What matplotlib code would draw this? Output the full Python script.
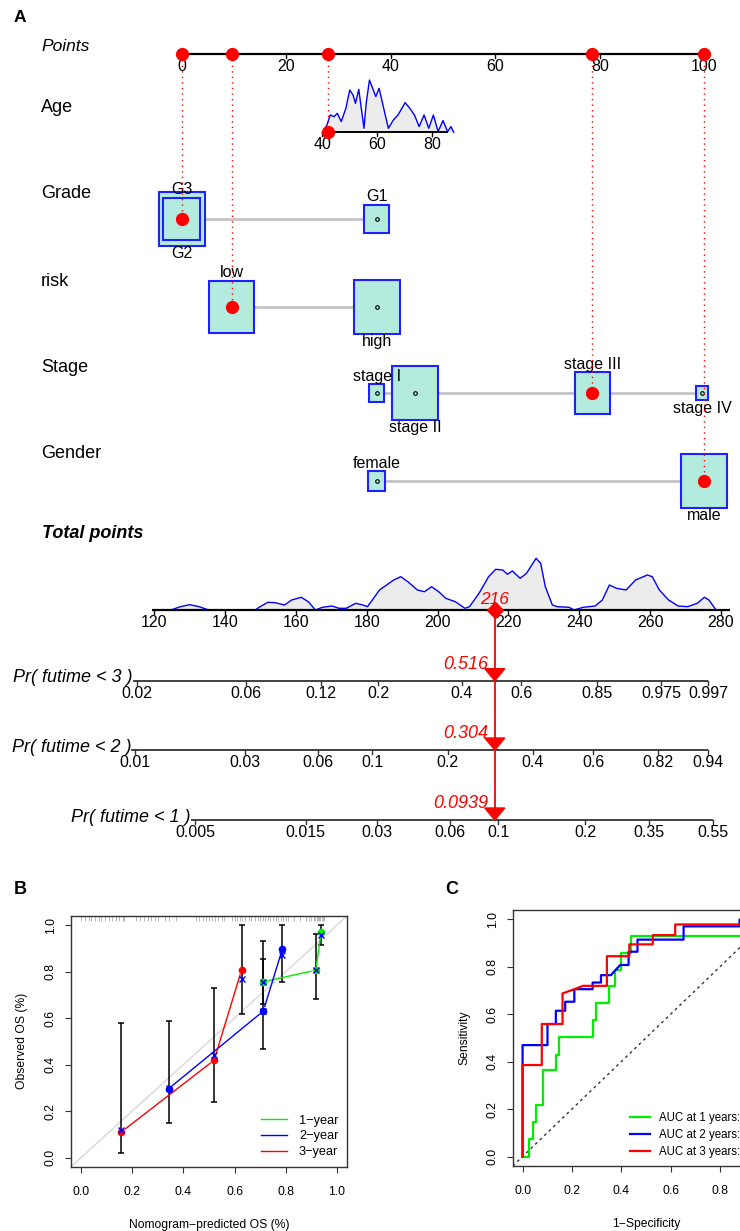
import numpy as np
import matplotlib.pyplot as plt
from matplotlib.patches import Rectangle, Polygon
from matplotlib.lines import Line2D
from matplotlib.ticker import FormatStrFormatter

plt.rcParams['font.family'] = ['Liberation Sans', 'DejaVu Sans']

# ---------------- panel A: nomogram data ----------------
points_ticks = [0, 20, 40, 60, 80, 100]

age_ticks = [40, 60, 80]
age_curve_age = [40, 41.7, 42.9, 44.3, 45.5, 46.9, 48.6, 50.0, 51.2, 52.1, 53.3, 54.3, 55.2, 56.0,
                 57.2, 58.6, 59.5, 60.7, 61.7, 62.8, 64.1, 65.9, 67.6, 70.2, 71.9, 73.6, 75.3,
                 77.1, 78.8, 80.5, 82.2, 84.0, 85.7, 86.9, 87.9]
age_curve_dens = [0, 7.3, 17.3, 15.7, 19, 10.7, 24, 42.3, 37.3, 29, 43, 22.3, 4, 29, 52.3, 42.3,
                  35.7, 44, 32.3, 19, 4, 12.3, 17.3, 29.7, 24, 17.3, 5.7, 17.3, 4, 17.3, 0.7,
                  11.7, 0.7, 5.7, 0]

grade_levels = ['G3', 'G2', 'G1']
grade_pts = [0, 0, 37.3]
grade_freq = [0.33, 0.52, 0.15]

risk_levels = ['low', 'high']
risk_pts = [9.6, 37.3]
risk_freq = [0.49, 0.51]

stage_levels = ['stage I', 'stage II', 'stage III', 'stage IV']
stage_pts = [37.3, 44.7, 78.6, 99.6]
stage_freq = [0.06, 0.55, 0.33, 0.04]

gender_levels = ['female', 'male']
gender_pts = [37.3, 100]
gender_freq = [0.12, 0.88]

# the patient shown in red
pat_age = 42
pat_grade = 'G3'
pat_risk = 'low'
pat_stage = 'stage III'
pat_gender = 'male'
pat_total_label = '216'

total_ticks = [120, 140, 160, 180, 200, 220, 240, 260, 280]
total_curve_x = [124.7, 127.4, 130, 132.7, 135.4, 148.5, 149.9, 152.1, 154.1, 156.8, 158.8, 161.5,
                 163.5, 165.5, 167.5, 170.2, 172.2, 174.2, 176.9, 178.9, 180.2, 183.6, 185.6,
                 187.6, 189.6, 191.6, 194.3, 196.3, 198.3, 200.3, 202.3, 205, 207.7, 209, 211.7,
                 214.4, 216.4, 218.4, 219.7, 221.1, 223.3, 225.1, 227.8, 229.1, 230.4, 232.4,
                 233.8, 237.1, 238.5, 241.1, 244.5, 246.5, 248.5, 250.5, 253.2, 255.9, 259.2,
                 260.6, 262.6, 265.2, 267.9, 270.6, 273.3, 275.3, 276.6, 278.6]
total_curve_dens = [0, 3.3, 5.3, 3.3, 0, 0, 3.3, 7.7, 7.3, 5, 10, 12.7, 8.3, 0, 2.7, 4, 1.7, 1.7,
                    6.7, 5, 3.3, 20, 25, 30, 33.3, 28.3, 20, 18.3, 23.3, 18.3, 11.7, 8.3, 1.7, 3.3,
                    16.7, 33.3, 40.7, 40, 35.7, 39, 31.7, 36.7, 51.7, 46.7, 23.3, 5, 3.3, 2.7, 0,
                    2.7, 4, 10, 25, 21.7, 20, 30, 35, 33.3, 20, 10, 4, 3.3, 6.7, 12.7, 10, 0]

# probability axes: tick labels and their place on the total points scale
pr3_labels = ['0.02', '0.06', '0.12', '0.2', '0.4', '0.6', '0.85', '0.975', '0.997']
pr3_total = [115.1, 145.9, 167.1, 183.2, 206.9, 223.6, 245.0, 263.1, 276.3]
pr2_labels = ['0.01', '0.03', '0.06', '0.1', '0.2', '0.4', '0.6', '0.82', '0.94']
pr2_total = [114.6, 145.6, 166.2, 181.5, 202.9, 226.9, 243.9, 262.2, 276.3]
pr1_labels = ['0.005', '0.015', '0.03', '0.06', '0.1', '0.2', '0.35', '0.55']
pr1_total = [131.5, 162.8, 182.9, 203.5, 217.1, 241.6, 259.7, 277.7]
pr_titles = ['Pr( futime < 3 )', 'Pr( futime < 2 )', 'Pr( futime < 1 )']
pr_values = ['0.516', '0.304', '0.0939']

# ---------------- panel B: calibration data ----------------
cal1_pred = [0.712, 0.917, 0.938]
cal1_obs = [0.756, 0.806, 0.971]
cal1_lo = [0.66, 0.683, 0.914]
cal1_hi = [0.853, 0.961, 1.0]
cal1_corr = [0.757, 0.806, 0.957]

cal2_pred = [0.343, 0.712, 0.786]
cal2_obs = [0.297, 0.63, 0.895]
cal2_lo = [0.15, 0.466, 0.756]
cal2_hi = [0.587, 0.932, 1.0]
cal2_corr = [0.30, 0.63, 0.87]

cal3_pred = [0.157, 0.52, 0.627]
cal3_obs = [0.11, 0.419, 0.806]
cal3_lo = [0.02, 0.24, 0.616]
cal3_hi = [0.577, 0.73, 1.0]
cal3_corr = [0.12, 0.44, 0.77]

rug_pred = [0.00, 0.015, 0.03, 0.04, 0.055, 0.07, 0.08, 0.095, 0.11, 0.12, 0.135, 0.15, 0.165, 0.17,
            0.215, 0.23, 0.245, 0.26, 0.275, 0.29, 0.30, 0.33, 0.345, 0.37,
            0.45, 0.46, 0.475, 0.49, 0.50, 0.51, 0.525, 0.535, 0.55, 0.56,
            0.59, 0.60, 0.61, 0.62, 0.63, 0.64, 0.655, 0.665, 0.68, 0.69, 0.70, 0.71, 0.72,
            0.73, 0.74, 0.75, 0.76, 0.77, 0.78, 0.79, 0.80, 0.81, 0.83, 0.855,
            0.88, 0.89, 0.90, 0.91, 0.915, 0.92, 0.925, 0.93, 0.935, 0.94, 0.945, 0.95]

# ---------------- panel C: time-dependent ROC data ----------------
roc1_fpr = [0, 0.027, 0.027, 0.041, 0.041, 0.055, 0.055, 0.081, 0.081, 0.135, 0.135, 0.149, 0.149,
            0.284, 0.284, 0.297, 0.297, 0.349, 0.349, 0.376, 0.376, 0.40, 0.40, 0.439, 0.439, 1.0]
roc1_tpr = [0, 0, 0.075, 0.075, 0.145, 0.145, 0.218, 0.218, 0.365, 0.365, 0.428, 0.428, 0.505,
            0.505, 0.578, 0.578, 0.649, 0.649, 0.72, 0.72, 0.786, 0.786, 0.859, 0.859, 0.929, 0.929]
roc2_fpr = [0, 0, 0.101, 0.101, 0.135, 0.135, 0.173, 0.173, 0.21, 0.21, 0.284, 0.284, 0.318, 0.318,
            0.358, 0.396, 0.43, 0.43, 0.466, 0.466, 0.653, 0.653, 0.88, 0.88, 1.0]
roc2_tpr = [0, 0.47, 0.47, 0.559, 0.559, 0.615, 0.615, 0.653, 0.653, 0.706, 0.706, 0.734, 0.734,
            0.765, 0.765, 0.808, 0.808, 0.864, 0.864, 0.915, 0.915, 0.971, 0.971, 1.0, 1.0]
roc3_fpr = [0, 0, 0.078, 0.078, 0.162, 0.162, 0.21, 0.245, 0.342, 0.342, 0.433, 0.433, 0.528,
            0.528, 0.619, 0.619, 1.0]
roc3_tpr = [0, 0.386, 0.386, 0.559, 0.559, 0.688, 0.706, 0.72, 0.72, 0.845, 0.845, 0.895, 0.895,
            0.934, 0.934, 0.979, 0.979]
roc_labels = ['AUC at 1 years:', 'AUC at 2 years:', 'AUC at 3 years:']

# ================= figure =================
W, H = 740, 1231
fig = plt.figure(figsize=(W / 100, H / 100), dpi=100)

# panel A uses the "points" scale on x and pixel rows on y
PT0_PX, PT_PX = 181.7, 5.226        # pixel of 0 points, pixels per point
TP0_PX, TP_PX = 154.2, 3.5425       # pixel of 120 total points, pixels per total point
AGE0_PT, AGE_SLOPE = 26.9, 0.525    # points for age 40, points per year
A_H = 860


def px2x(px):
    return (px - PT0_PX) / PT_PX


def tp2x(tp):
    return px2x(TP0_PX + (tp - 120) * TP_PX)


def age2x(age):
    return AGE0_PT + (age - 40) * AGE_SLOPE


ax = fig.add_axes([0, 1 - A_H / H, 1, A_H / H])
ax.set_xlim(px2x(0), px2x(W))
ax.set_ylim(A_H, 0)
ax.axis('off')

RED = '#ff0000'
BOX_FC = '#b3ebdf'
BOX_EC = '#2020ff'
FS_ROW = 13
FS_TICK = 11.5

Y_POINTS, Y_AGE, Y_GRADE, Y_RISK, Y_STAGE, Y_GENDER = 54.3, 132.3, 219, 307, 393, 481
Y_TOTAL, Y_PR = 610, [680.7, 750, 820]
LAB_X = px2x(41)

ax.text(px2x(14), 18, 'A', fontsize=12.5, fontweight='bold', va='center')


def h_axis(y, x0, x1, tick_x, tick_lab, fs=FS_TICK, lw=1.4, color='black'):
    ax.plot([x0, x1], [y, y], color=color, lw=lw, solid_capstyle='butt', zorder=3)
    for tx, tl in zip(tick_x, tick_lab):
        ax.plot([tx, tx], [y, y + 4], color=color, lw=1, zorder=3)
        ax.text(tx, y + 12.5, tl, ha='center', va='center', fontsize=fs)


# Points
ax.text(LAB_X, 46.5, 'Points', fontsize=12.5, style='italic', va='center')
h_axis(Y_POINTS, 0, 100, points_ticks, [str(t) for t in points_ticks], lw=1.6)

# Age
ax.text(LAB_X, 107, 'Age', fontsize=FS_ROW, va='center')
ax_age = [age2x(a) for a in age_curve_age]
age_top = [Y_AGE - d for d in age_curve_dens]
ax.fill_between(ax_age, Y_AGE, age_top, color='#ececec', lw=0, zorder=1)
ax.plot(ax_age, age_top, color='#0000ff', lw=1, zorder=2)
h_axis(Y_AGE, age2x(40), age2x(85.7), [age2x(a) for a in age_ticks], [str(a) for a in age_ticks])


def cat_row(label, label_y, y, levels, pts, freq, chosen):
    ax.text(LAB_X, label_y, label, fontsize=FS_ROW, va='center')
    ax.plot([min(pts), max(pts)], [y, y], color='#c4c4c4', lw=2, zorder=1)
    fmax = max(freq)
    sizes = [46 * np.sqrt(f / fmax) for f in freq]
    for i in sorted(range(len(levels)), key=lambda k: -freq[k]):
        w = sizes[i]
        h = 1.17 * w
        ax.add_patch(Rectangle((pts[i] - w / 2 / PT_PX, y - h / 2), w / PT_PX, h,
                               fc=BOX_FC, ec=BOX_EC, lw=1.5, zorder=2))
        if levels[i] != chosen:
            ax.plot(pts[i], y, 'o', mfc='none', mec='black', ms=2.6, mew=0.8, zorder=3)
    order = np.argsort(pts, kind='stable')
    for k, i in enumerate(order):
        h = 1.17 * sizes[i]
        ty = y - h / 2 - 8 if k % 2 == 0 else y + h / 2 + 8
        ax.text(pts[i], ty, levels[i], ha='center', va='center', fontsize=FS_TICK, zorder=4)
    return pts[levels.index(chosen)]


sel = []
sel.append((cat_row('Grade', 193, Y_GRADE, grade_levels, grade_pts, grade_freq, pat_grade), Y_GRADE))
sel.append((cat_row('risk', 281, Y_RISK, risk_levels, risk_pts, risk_freq, pat_risk), Y_RISK))
sel.append((age2x(pat_age), Y_AGE))
sel.append((cat_row('Stage', 367, Y_STAGE, stage_levels, stage_pts, stage_freq, pat_stage), Y_STAGE))
sel.append((cat_row('Gender', 453, Y_GENDER, gender_levels, gender_pts, gender_freq, pat_gender), Y_GENDER))

# patient points: red dots and dotted drop lines
for px_, py_ in sel:
    ax.plot([px_, px_], [Y_POINTS, py_], color=RED, lw=1, ls=(0, (1, 3)), zorder=5)
    ax.plot(px_, Y_POINTS, 'o', color=RED, ms=8.5, zorder=6)
    ax.plot(px_, py_, 'o', color=RED, ms=8.5, zorder=6)
total_pts = sum(p for p, _ in sel)

# Total points
ax.text(px2x(42), 533, 'Total points', fontsize=FS_ROW, style='italic', fontweight='bold', va='center')
tx = [tp2x(t) for t in total_curve_x]
ttop = [Y_TOTAL - d for d in total_curve_dens]
ax.fill_between(tx, Y_TOTAL, ttop, color='#ececec', lw=0, zorder=1)
ax.plot(tx, ttop, color='#0000ff', lw=1, zorder=2)
h_axis(Y_TOTAL, tp2x(119.5), tp2x(282.5), [tp2x(t) for t in total_ticks],
       [str(t) for t in total_ticks], lw=1.6)

# probability axes
pr_sets = [(pr3_total, pr3_labels), (pr2_total, pr2_labels), (pr1_total, pr1_labels)]
for y, (tot, labs), title in zip(Y_PR, pr_sets, pr_titles):
    xs = [tp2x(t) for t in tot]
    h_axis(y, xs[0] - 4 / PT_PX, xs[-1], xs, labs, lw=1.3, color='#333333')
    ax.text(xs[0] - 4 / PT_PX, y - 3, title, ha='right', va='center', fontsize=FS_ROW,
            style='italic')

# red projection of the patient's total
xr = tp2x(total_pts)
ax.plot([xr, xr], [Y_TOTAL, Y_PR[-1]], color=RED, lw=1.3, zorder=6)
ax.plot(xr, Y_TOTAL, 'D', color=RED, ms=8, zorder=7)
ax.text(xr, 600, pat_total_label, color=RED, ha='center', va='center', fontsize=12.5,
        style='italic', zorder=7)
hw = 10 / PT_PX
for y, v in zip(Y_PR, pr_values):
    ax.add_patch(Polygon([(xr - hw, y - 12), (xr + hw, y - 12), (xr, y)], closed=True,
                         color=RED, zorder=7))
    ax.text(xr - 7 / PT_PX, y - 16, v, color=RED, ha='right', va='center', fontsize=13,
            style='italic', zorder=7)

# ---------------- panels B and C ----------------
FS_SMALL = 8.7
axb = fig.add_axes([70.7 / W, 1 - 1167 / H, (347.3 - 70.7) / W, (1167 - 915.7) / H])
axc = fig.add_axes([512.7 / W, 1 - 1166 / H, (779 - 512.7) / W, (1166 - 910) / H])
for a, xt in ((axb, [0, 0.2, 0.4, 0.6, 0.8, 1.0]), (axc, [0, 0.2, 0.4, 0.6, 0.8])):
    a.set_xlim(-0.04, 1.04)
    a.set_ylim(-0.04, 1.04)
    a.set_xticks(xt)
    a.set_yticks([0, 0.2, 0.4, 0.6, 0.8, 1.0])
    a.xaxis.set_major_formatter(FormatStrFormatter('%.1f'))
    a.yaxis.set_major_formatter(FormatStrFormatter('%.1f'))
    a.tick_params(labelsize=FS_SMALL, length=4, width=0.8, color='#333333')
    a.tick_params(axis='x', pad=10)
    a.tick_params(axis='y', labelrotation=90, pad=6)
    for lbl in a.get_yticklabels():
        lbl.set_va('center')
    for s in a.spines.values():
        s.set_color('#333333')
        s.set_linewidth(1)

fig.text(20 / W, 1 - 890 / H, 'B', fontsize=13, fontweight='bold', ha='center', va='center')
fig.text(452 / W, 1 - 890 / H, 'C', fontsize=13, fontweight='bold', ha='center', va='center')

axb.axline((0, 0), (1, 1), color='#d8d8d8', lw=1, zorder=1)
axb.vlines(rug_pred, 0.978, 0.998, transform=axb.get_xaxis_transform(), color='#a0a0a0', lw=0.5)


def gapped_line(a, xs, ys, color, gap=5):
    pts = a.transData.transform(np.column_stack([xs, ys]))
    inv = a.transData.inverted()
    for p0, p1 in zip(pts[:-1], pts[1:]):
        d = p1 - p0
        L = np.hypot(*d)
        if L <= 2 * gap:
            continue
        seg = inv.transform([p0 + d * gap / L, p1 - d * gap / L])
        a.plot(seg[:, 0], seg[:, 1], color=color, lw=1, zorder=3)


cal_sets = [(cal1_pred, cal1_obs, cal1_lo, cal1_hi, cal1_corr, '#00ee00'),
            (cal2_pred, cal2_obs, cal2_lo, cal2_hi, cal2_corr, '#0000ff'),
            (cal3_pred, cal3_obs, cal3_lo, cal3_hi, cal3_corr, '#ff0000')]
for xp, yo, lo, hi, bc, col in cal_sets:
    yo_a = np.array(yo)
    axb.errorbar(xp, yo, yerr=[yo_a - np.array(lo), np.array(hi) - yo_a], fmt='none',
                 ecolor='black', elinewidth=1.1, capsize=2.5, capthick=1.1, zorder=2)
for xp, yo, lo, hi, bc, col in cal_sets:
    gapped_line(axb, xp, yo, col)
    axb.plot(xp, yo, 'o', color=col, ms=4.5, zorder=4)
for xp, yo, lo, hi, bc, col in cal_sets:
    axb.plot(xp, bc, 'x', color='#0000ff', ms=5, mew=1, zorder=5)

axb.set_xlabel('Nomogram\u2212predicted OS (%)', fontsize=FS_SMALL, labelpad=15)
axb.set_ylabel('Observed OS (%)', fontsize=FS_SMALL, labelpad=12)
hb = [Line2D([], [], color=c, lw=1) for c in ('#00ee00', '#0000ff', '#ff0000')]
axb.legend(hb, ['1\u2212year', '2\u2212year', '3\u2212year'], loc='lower right', frameon=False,
           fontsize=FS_SMALL + 0.5, handlelength=2.1, handletextpad=0.9, labelspacing=0.28,
           borderaxespad=0.3)

axc.axline((0, 0), (1, 1), color='#333333', lw=1, ls=(0, (2, 2.5)), zorder=1)
axc.plot(roc1_fpr, roc1_tpr, color='#00ee00', lw=1.6, zorder=2)
axc.plot(roc2_fpr, roc2_tpr, color='#0000ff', lw=1.6, zorder=3)
axc.plot(roc3_fpr, roc3_tpr, color='#ff0000', lw=1.6, zorder=4)
axc.set_xlabel('1\u2212Specificity', fontsize=FS_SMALL, labelpad=15)
axc.set_ylabel('Sensitivity', fontsize=FS_SMALL, labelpad=12)
hc = [Line2D([], [], color=c, lw=1.6) for c in ('#00ee00', '#0000ff', '#ff0000')]
axc.legend(hc, roc_labels, loc='lower left', bbox_to_anchor=(0.41, 0.0), frameon=False,
           fontsize=8.3, handlelength=1.75, handletextpad=0.8, labelspacing=0.42,
           borderaxespad=0.3)

fig.savefig('out.png', dpi=100)
